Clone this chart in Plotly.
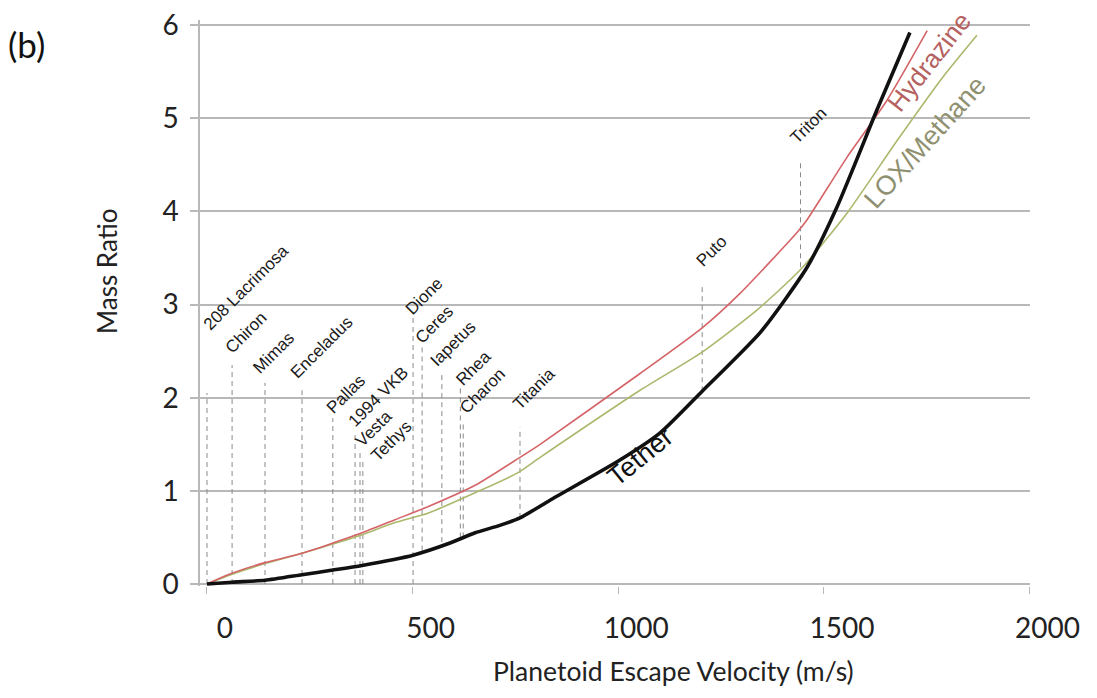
import plotly.graph_objects as go

# ---------------- data ----------------
tether_v = [0, 61, 141, 231, 306, 377, 501, 591, 652, 712, 761, 834, 1000, 1101, 1204, 1347, 1459, 1532, 1629, 1709]
tether_mr = [0.0, 0.02, 0.04, 0.10, 0.15, 0.20, 0.31, 0.44, 0.55, 0.63, 0.71, 0.90, 1.32, 1.62, 2.07, 2.71, 3.40, 4.05, 5.09, 5.92]

hydrazine_v = [0, 51, 141, 231, 306, 377, 457, 537, 652, 761, 810, 1053, 1204, 1296, 1434, 1459, 1556, 1653, 1751]
hydrazine_mr = [0.0, 0.10, 0.23, 0.33, 0.44, 0.55, 0.69, 0.83, 1.06, 1.36, 1.50, 2.26, 2.75, 3.12, 3.77, 3.91, 4.58, 5.19, 5.94]

lox_v = [0, 51, 141, 231, 306, 377, 457, 537, 652, 754, 810, 1053, 1204, 1337, 1442, 1556, 1678, 1789, 1872]
lox_mr = [0.0, 0.09, 0.22, 0.33, 0.43, 0.53, 0.66, 0.76, 0.98, 1.19, 1.36, 2.08, 2.49, 2.94, 3.37, 3.98, 4.76, 5.44, 5.89]

body_names = ["208 Lacrimosa", "Chiron", "Mimas", "Enceladus", "Pallas", "1994 VKB", "Vesta", "Tethys",
              "Dione", "Ceres", "Iapetus", "Rhea", "Charon", "Titania", "Puto", "Triton"]
body_v = [0, 61, 141, 231, 306, 360, 372, 379, 501, 523, 571, 616, 623, 761, 1204, 1443]
line_top = [2.05, 2.35, 2.16, 2.08, 1.78, 1.62, 1.41, 1.33, 2.92, 2.54, 2.26, 2.10, 1.75, 1.68, 3.19, 4.55]
line_bottom = [0, 0, 0, 0, 0, 0, 0, 0, 0, 0.36, 0.45, 0.50, 0.50, 0.71, 2.07, 3.40]
label_v = [7, 61, 129, 219, 306, 360, 377, 416, 498, 523, 559, 620, 632, 761, 1204, 1434]
label_mr = [2.69, 2.44, 2.22, 2.17, 1.79, 1.65, 1.44, 1.28, 2.85, 2.54, 2.30, 2.09, 1.79, 1.83, 3.37, 4.69]

x_ticks = [0, 500, 1000, 1500, 2000]
y_ticks = [0, 1, 2, 3, 4, 5, 6]

GRID = "#b8b8b8"
FONT = "Lato"

fig = go.Figure()

# dashed marker lines for the bodies
dx, dy = [], []
for v, b, t in zip(body_v, line_bottom, line_top):
    dx += [v, v, None]
    dy += [b, t, None]
fig.add_trace(go.Scatter(x=dx, y=dy, mode="lines", hoverinfo="skip",
                         line=dict(color="#8a8a8a", width=1, dash="5px,4px")))

fig.add_trace(go.Scatter(x=lox_v, y=lox_mr, mode="lines", name="LOX/Methane",
                         line=dict(color="#abb86c", width=1.6, shape="spline", smoothing=0.6)))
fig.add_trace(go.Scatter(x=hydrazine_v, y=hydrazine_mr, mode="lines", name="Hydrazine",
                         line=dict(color="#d46468", width=1.6, shape="spline", smoothing=0.6)))
fig.add_trace(go.Scatter(x=tether_v, y=tether_mr, mode="lines", name="Tether",
                         line=dict(color="#111111", width=3.6, shape="spline", smoothing=0.6)))

annotations = []
for name, v, m in zip(body_names, label_v, label_mr):
    annotations.append(dict(x=v, y=m, xref="x", yref="y", text=name, showarrow=False,
                            textangle=-45, xanchor="left", yanchor="bottom",
                            xshift=-13, yshift=-3,
                            font=dict(family="Liberation Sans", size=17, color="#1a1a1a")))

# plot area: x from 192 to 1022 (830 px), y from 12 to 578 (566 px) in figure pixels
annotations += [
    dict(x=1756, y=5.60, xref="x", yref="y", text="Hydrazine", showarrow=False, textangle=-52,
         font=dict(family="Liberation Sans", size=26, color="#b5615f")),
    dict(x=1747, y=4.74, xref="x", yref="y", text="LOX/Methane", showarrow=False, textangle=-48,
         font=dict(family="Liberation Sans", size=27, color="#8f9070")),
    dict(x=1053, y=1.36, xref="x", yref="y", text="Tether", showarrow=False, textangle=-39,
         font=dict(family="Liberation Sans", size=27, color="#111111")),
    dict(x=-0.2337, y=0.9982, xref="paper", yref="paper", text="(b)", showarrow=False,
         xanchor="left", yanchor="top", font=dict(family=FONT, size=35, color="#111111")),
    dict(x=-0.112, y=0.5548, xref="paper", yref="paper", text="Mass Ratio", showarrow=False,
         xanchor="center", yanchor="middle",
         textangle=-90, font=dict(family=FONT, size=26, color="#222222")),
    dict(x=0.570, y=-0.1502, xref="paper", yref="paper", text="Planetoid Escape Velocity (m/s)",
         xanchor="center", yanchor="middle",
         showarrow=False, font=dict(family=FONT, size=26.5, color="#222222")),
]

fig.update_layout(
    width=1081, height=682,
    margin=dict(l=192, r=59, t=12, b=104),
    plot_bgcolor="white", paper_bgcolor="white",
    showlegend=False,
    annotations=annotations,
    xaxis=dict(range=[-17, 2001], tickvals=x_ticks, ticktext=[str(t) for t in x_ticks],
               automargin=False,
               showgrid=False, zeroline=False, showline=False,
               ticks="outside", ticklen=7, tickcolor=GRID, tickwidth=1.2,
               ticklabelshift=18, ticklabelstandoff=10, ticklabeloverflow="allow",
               tickfont=dict(family=FONT, size=28, color="#222222")),
    yaxis=dict(range=[-0.021, 6.054], tickvals=y_ticks, ticktext=[str(t) for t in y_ticks],
               automargin=False,
               showgrid=True, gridcolor=GRID, gridwidth=1.5,
               zeroline=True, zerolinecolor=GRID, zerolinewidth=1.5,
               showline=True, linecolor=GRID, linewidth=1.5,
               ticks="outside", ticklen=8, tickcolor=GRID, tickwidth=1.5,
               ticklabelstandoff=6, ticklabeloverflow="allow",
               tickfont=dict(family=FONT, size=28, color="#222222")),
)

fig.write_html("out.html")
